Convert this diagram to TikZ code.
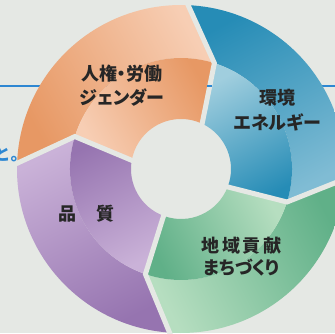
\documentclass[tikz,border=0pt]{standalone}
\usepackage{fontspec}
\newfontfamily\jp{Noto Sans CJK JP}[RawFeature=+palt]
\newfontfamily\jpplain{Noto Sans CJK JP}
\definecolor{bg}{RGB}{229,232,228}
\definecolor{ordark}{RGB}{231,152,100}
\definecolor{orlight}{RGB}{247,206,180}
\definecolor{bldark}{RGB}{38,140,182}
\definecolor{bllight}{RGB}{160,206,222}
\definecolor{blmid}{RGB}{128,188,212}
\definecolor{grdark}{RGB}{96,176,136}
\definecolor{grlight}{RGB}{182,222,192}
\definecolor{pudark}{RGB}{150,116,176}
\definecolor{pulight}{RGB}{202,178,216}
\definecolor{lineblue}{RGB}{45,135,210}
\definecolor{txt}{RGB}{38,38,38}
\tikzset{
  gapline/.style={draw=bg, line width=5pt, line join=miter, shorten <=-6pt, shorten >=-6pt},
  rule/.style={draw=lineblue, line width=1.2pt},
  lbl/.style={text=txt, align=center, inner sep=0pt, font=\jp\bfseries\fontsize{18}{#1}\selectfont},
}
\begin{document}
\begin{tikzpicture}[x=1pt,y=1pt]
\useasboundingbox (-181,-164) rectangle (154,169);
\clip (-181,-164) rectangle (154,169);
\fill[bg] (-181,-164) rectangle (154,169);
\coordinate (L) at (-181,83);
\coordinate (R) at (154,83);
\draw[rule] (L) -- (R);
% orange
\path[top color=orlight, bottom color=ordark, shading angle=-61]
  (178:164) arc[start angle=178, end angle=87.5, radius=164] -- (72.5:111)
  arc[start angle=72.5, end angle=163, radius=111] -- cycle;
\path[top color=ordark, bottom color=orlight, shading angle=-61]
  (72.5:111) -- (65:50) arc[start angle=65, end angle=170, radius=50] -- (163:111)
  arc[start angle=163, end angle=72.5, radius=111] -- cycle;
% blue
\path[top color=blmid, bottom color=bldark, shading angle=-151.6]
  (87.5:164) arc[start angle=87.5, end angle=-3.5, radius=164] -- (-17.3:111)
  arc[start angle=-17.3, end angle=72.5, radius=111] -- cycle;
\path[top color=bldark, bottom color=bllight, shading angle=-151.6]
  (-17.3:111) -- (-21:50) arc[start angle=-21, end angle=65, radius=50] -- (72.5:111)
  arc[start angle=72.5, end angle=-17.3, radius=111] -- cycle;
% green
\path[top color=grlight, bottom color=grdark, shading angle=117]
  (-3.5:164) arc[start angle=-3.5, end angle=-94, radius=164] -- (-108.7:111)
  arc[start angle=-108.7, end angle=-17.3, radius=111] -- cycle;
\path[top color=grdark, bottom color=grlight, shading angle=117]
  (-108.7:111) -- (-110.4:50) arc[start angle=-110.4, end angle=-21, radius=50] -- (-17.3:111)
  arc[start angle=-17.3, end angle=-108.7, radius=111] -- cycle;
% purple
\path[top color=pulight, bottom color=pudark, shading angle=27]
  (-94:164) arc[start angle=-94, end angle=-182, radius=164] -- (-197:111)
  arc[start angle=-197, end angle=-108.7, radius=111] -- cycle;
\path[top color=pudark, bottom color=pulight, shading angle=27]
  (-197:111) -- (-190:50) arc[start angle=-190, end angle=-110.4, radius=50] -- (-108.7:111)
  arc[start angle=-108.7, end angle=-197, radius=111] -- cycle;
% gaps
\path[gapline] (87.5:164) -- (72.5:111) -- (65:50);
\path[gapline] (-3.5:164) -- (-17.3:111) -- (-21:50);
\path[gapline] (-94:164) -- (-108.7:111) -- (-110.4:50);
\path[gapline] (178:164) -- (163:111) -- (170:50);
\coordinate (G1) at (26.2,83);
\coordinate (G2) at (31.3,83);
\draw[rule] (G1) -- (G2);
% labels
\node[lbl=23.5] (hr) at (-59,83.3) {人権・労働\\ジェンダー};
\node[lbl=25] (env) at (96.5,58.5) {環境\\エネルギー};
\node[lbl=18] (qual) at (-94.3,-45) {品　\kern2.5pt 質};
\node[lbl=22] (comm) at (60.5,-87.5) {地\kern2.8pt 域\kern2.8pt 貢\kern2.8pt 献\\まちづくり};
\node[anchor=base west, inner sep=0pt, text=lineblue, font=\jpplain\bfseries\fontsize{17}{17}\selectfont] (to) at (-187.5,9) {と。};
\end{tikzpicture}
\end{document}
